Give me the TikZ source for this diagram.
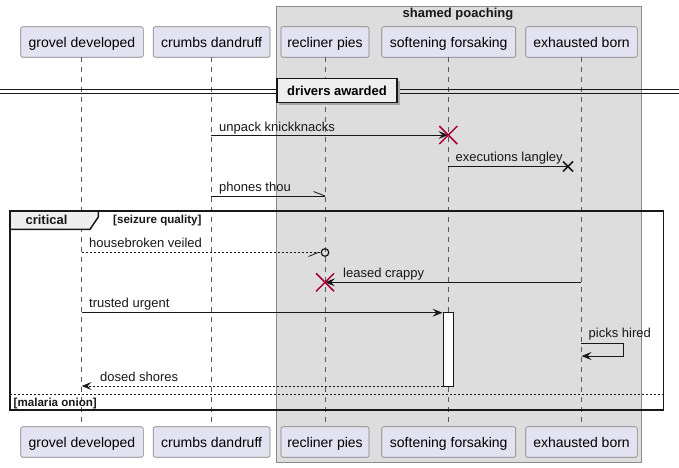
\documentclass[tikz,border=0pt]{standalone}
\usepackage{fontspec}
\setmainfont{Liberation Sans}
\usetikzlibrary{arrows.meta}
\definecolor{partfill}{HTML}{E2E2F0}
\definecolor{grpfill}{HTML}{DDDDDD}
\definecolor{xred}{HTML}{A80036}
\definecolor{tabfill}{HTML}{EEEEEE}
\definecolor{linecol}{HTML}{181818}
\tikzset{
  part/.style={draw=black!50, fill=partfill, rounded corners=2pt, minimum height=30.5pt, inner sep=0pt, font=\fontsize{14}{16}\selectfont, line width=0.6pt, text depth=0pt, text height=10pt},
  life/.style={draw=black!65, dash pattern=on 5pt off 5pt, line width=0.6pt},
  msg/.style={draw=linecol, line width=0.8pt},
  dmsg/.style={draw=linecol, line width=0.8pt, dash pattern=on 2pt off 2pt},
  tip/.style={-{Stealth[length=10pt,width=8pt,inset=4pt]}},
  lbl/.style={font=\fontsize{13}{15}\selectfont, anchor=base west, inner sep=0pt, text=linecol},
  redx/.style={draw=xred, line width=1.5pt},
  blkx/.style={draw=linecol, line width=1.5pt},
  boldsm/.style={font=\bfseries\fontsize{11.6}{13}\selectfont, inner sep=0pt, text=linecol},
}
\begin{document}
\begin{tikzpicture}[x=1pt,y=-1pt]
\useasboundingbox (0,0) rectangle (679,467);
\fill[white] (0,0) rectangle (679,467);
% group box
\draw[fill=grpfill, draw=black!45, line width=0.6pt] (276.5,6) rectangle (641.5,462.5);
\node[font=\bfseries\fontsize{13}{15}\selectfont, inner sep=0pt, text=linecol] (gtitle) at (458,14.5) {shamed poaching};
% participants
\node[part, minimum width=122.6pt] (gt) at (82,42) {grovel developed};
\node[part, minimum width=116.7pt] (ct) at (211.6,42) {crumbs dandruff};
\node[part, minimum width=88pt] (rt) at (325,42) {recliner pies};
\node[part, minimum width=134pt] (st) at (448.7,42) {softening forsaking};
\node[part, minimum width=111.6pt] (et) at (581.5,42) {exhausted born};
\node[part, minimum width=122.6pt] (gb) at (82,442) {grovel developed};
\node[part, minimum width=116.7pt] (cb) at (211.6,442) {crumbs dandruff};
\node[part, minimum width=88pt] (rb) at (325,442) {recliner pies};
\node[part, minimum width=134pt] (sb) at (448.7,442) {softening forsaking};
\node[part, minimum width=111.6pt] (eb) at (581.5,442) {exhausted born};
% lifelines
\draw[life] (81.7,57.3) -- (81.7,426.7);
\draw[life] (211,57.3) -- (211,426.7);
\draw[life] (325,57.3) -- (325,426.7);
\draw[life] (448.3,57.3) -- (448.3,426.7);
\draw[life] (581,57.3) -- (581,426.7);
% divider
\draw[line width=0.8pt, draw=linecol] (0,89.8) -- (679,89.8);
\draw[line width=0.8pt, draw=linecol] (0,93.2) -- (679,93.2);
\fill[black!35] (279,80.5) rectangle (399.5,104.5);
\node[draw=linecol, fill=tabfill, line width=1.5pt, minimum width=120pt, minimum height=24pt, inner sep=0pt, font=\bfseries\fontsize{13}{15}\selectfont] (div) at (337,90.5) {drivers awarded};
% message 1: unpack knickknacks
\coordinate (m1a) at (211,135);
\coordinate (m1b) at (448.3,135);
\draw[msg, tip] (m1a) -- (m1b);
\node[lbl] (l1) at (219,131) {unpack knickknacks};
\draw[redx] (439.3,126) -- (457.3,144) (439.3,144) -- (457.3,126);
% message 2: executions langley (lost)
\coordinate (m2a) at (448.3,166.5);
\coordinate (m2b) at (568,166.5);
\draw[msg] (m2a) -- (m2b);
\node[lbl] (l2) at (455.5,161) {executions langley};
\draw[blkx] (563,161.5) -- (573,171.5) (563,171.5) -- (573,161.5);
% message 3: phones thou (half arrow)
\coordinate (m3a) at (211,196);
\coordinate (m3b) at (325,196);
\draw[msg] (m3a) -- (m3b);
\draw[msg] (313.5,191.5) -- (m3b);
\node[lbl] (l3) at (219,191.5) {phones thou};
% critical frame
\draw[line width=1.5pt, draw=linecol] (10,211) rectangle (663.3,410);
\draw[fill=tabfill, draw=linecol, line width=1.5pt] (10,211) -- (98.3,211) -- (98.3,217) -- (90,229.3) -- (10,229.3) -- cycle;
\node[font=\bfseries\fontsize{13}{15}\selectfont, inner sep=0pt, text=linecol] (crit) at (46.5,220.3) {critical};
\node[boldsm, anchor=west] (cond) at (113,220.5) {[seizure quality]};
% message 4: housebroken veiled (dashed, circle)
\coordinate (m4a) at (81.7,252.5);
\coordinate (m4b) at (321,252.5);
\draw[dmsg] (m4a) -- (m4b);
\draw[msg] (308.5,256.5) -- (318,252.5);
\draw[line width=1.2pt, draw=linecol] (325,252.5) circle (3.8pt);
\node[lbl] (l4) at (89,247) {housebroken veiled};
% message 5: leased crappy (to destroy)
\coordinate (m5a) at (581,282.3);
\coordinate (m5b) at (325,282.3);
\draw[msg, tip] (m5a) -- (m5b);
\node[lbl] (l5) at (343,277.5) {leased crappy};
\draw[redx] (316,273.3) -- (334,291.3) (316,291.3) -- (334,273.3);
% activation
\draw[fill=white, draw=linecol, line width=0.8pt] (443.3,312.5) rectangle (453.3,386);
% message 6: trusted urgent
\coordinate (m6a) at (81.7,312.7);
\coordinate (m6b) at (442.5,312.7);
\draw[msg, tip] (m6a) -- (m6b);
\node[lbl] (l6) at (89,307.5) {trusted urgent};
% message 7: picks hired (self)
\coordinate (m7a) at (581,343.3);
\coordinate (m7b) at (581.5,356);
\draw[msg, tip] (m7a) -- (623.3,343.3) -- (623.3,356) -- (m7b);
\node[lbl] (l7) at (588.5,337) {picks hired};
% message 8: dosed shores (dashed return)
\coordinate (m8a) at (443.3,386);
\coordinate (m8b) at (81.7,386);
\draw[dmsg, tip] (m8a) -- (m8b);
\node[lbl] (l8) at (100,381.5) {dosed shores};
% else separator
\draw[line width=0.8pt, draw=linecol, dash pattern=on 2pt off 2pt] (10,394.5) -- (663.3,394.5);
\node[boldsm, anchor=west] (else) at (13.5,403) {[malaria onion]};
\end{tikzpicture}
\end{document}
